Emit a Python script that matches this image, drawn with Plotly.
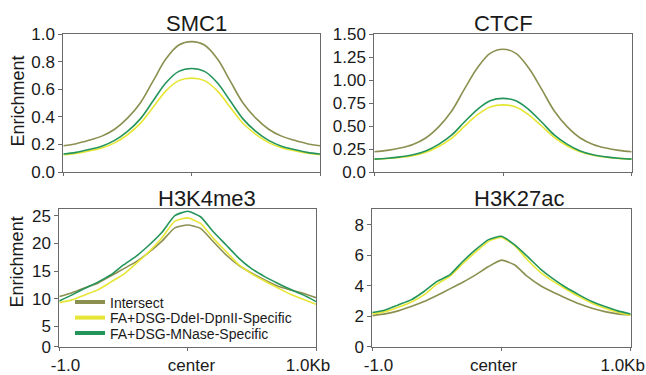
import plotly.graph_objects as go

# ---------------- data ----------------
x_pos = [-1.0, -0.9, -0.8, -0.7, -0.6, -0.5, -0.4, -0.3, -0.2, -0.1, 0.0,
         0.1, 0.2, 0.3, 0.4, 0.5, 0.6, 0.7, 0.8, 0.9, 1.0]

series_names = ["Intersect", "FA+DSG-DdeI-DpnII-Specific", "FA+DSG-MNase-Specific"]

smc1_intersect = [0.19, 0.205, 0.23, 0.26, 0.31, 0.39, 0.50, 0.66, 0.82, 0.92, 0.945,
                  0.92, 0.82, 0.66, 0.50, 0.39, 0.31, 0.26, 0.23, 0.205, 0.19]
smc1_ddei = [0.125, 0.135, 0.152, 0.174, 0.211, 0.270, 0.352, 0.470, 0.588, 0.662, 0.68,
             0.662, 0.588, 0.470, 0.353, 0.272, 0.213, 0.176, 0.154, 0.136, 0.125]
smc1_mnase = [0.13, 0.142, 0.163, 0.187, 0.229, 0.294, 0.385, 0.516, 0.647, 0.729, 0.75,
              0.729, 0.647, 0.516, 0.385, 0.294, 0.229, 0.187, 0.163, 0.142, 0.13]

ctcf_intersect = [0.22, 0.235, 0.26, 0.30, 0.37, 0.49, 0.66, 0.90, 1.13, 1.29, 1.335,
                  1.29, 1.13, 0.90, 0.66, 0.49, 0.37, 0.30, 0.26, 0.235, 0.22]
ctcf_ddei = [0.14, 0.146, 0.158, 0.178, 0.214, 0.277, 0.366, 0.495, 0.620, 0.706, 0.73,
             0.707, 0.622, 0.50, 0.373, 0.283, 0.219, 0.182, 0.161, 0.148, 0.14]
ctcf_mnase = [0.14, 0.149, 0.164, 0.187, 0.229, 0.30, 0.40, 0.543, 0.679, 0.774, 0.80,
              0.774, 0.679, 0.543, 0.40, 0.30, 0.229, 0.187, 0.164, 0.149, 0.14]

h3k4_intersect = [10.4, 11.1, 12.0, 12.8, 14.1, 15.4, 16.7, 18.4, 20.4, 22.8, 23.3,
                  22.7, 20.3, 17.9, 16.0, 14.6, 13.4, 12.3, 11.6, 11.0, 10.2]
h3k4_ddei = [9.3, 9.8, 10.7, 11.6, 13.0, 14.4, 16.4, 18.5, 21.0, 24.0, 24.6,
             23.6, 20.9, 18.5, 16.1, 14.5, 13.2, 12.0, 10.8, 9.9, 9.0]
h3k4_mnase = [9.6, 10.7, 11.9, 13.0, 14.3, 16.1, 17.7, 19.7, 22.0, 25.0, 25.8,
              24.8, 22.1, 19.7, 17.3, 15.4, 14.0, 12.8, 11.7, 10.7, 9.5]

h3k27_intersect = [2.04, 2.15, 2.35, 2.63, 2.96, 3.36, 3.79, 4.23, 4.71, 5.26, 5.68,
                   5.37, 4.61, 4.01, 3.57, 3.18, 2.81, 2.52, 2.30, 2.15, 2.08]
h3k27_ddei = [2.15, 2.30, 2.59, 2.92, 3.40, 4.10, 4.61, 5.44, 6.21, 6.91, 7.17,
              6.64, 5.70, 4.89, 4.28, 3.77, 3.29, 2.85, 2.52, 2.26, 2.04]
h3k27_mnase = [2.24, 2.41, 2.74, 3.07, 3.62, 4.28, 4.71, 5.59, 6.36, 7.02, 7.24,
               6.69, 5.92, 5.11, 4.45, 3.88, 3.40, 2.96, 2.63, 2.35, 2.15]

panel_titles = ["SMC1", "CTCF", "H3K4me3", "H3K27ac"]
y_label = "Enrichment"

x_tickvals = [-1.0, 0.0, 1.0]
NB = "\u00a0"
x_ticktext_left = [NB * 6 + "-1.0", NB * 5 + "center", "1.0Kb"]
x_ticktext_right = [NB * 6 + "-1.0", "center", "1.0Kb"]

smc1_ticks = [0.0, 0.2, 0.4, 0.6, 0.8, 1.0]
smc1_ticktext = ["0.0", "0.2", "0.4", "0.6", "0.8", "1.0"]
ctcf_ticks = [0.0, 0.25, 0.5, 0.75, 1.0, 1.25, 1.5]
ctcf_ticktext = ["0.0", "0.25", "0.50", "0.75", "1.00", "1.25", "1.50"]
h3k4_ticks = [1.35, 5, 10, 15, 20, 25]
h3k4_ticktext = ["0", "5", "10", "15", "20", "25"]
h3k27_ticks = [0, 2, 4, 6, 8]
h3k27_ticktext = ["0", "2", "4", "6", "8"]

colors = ["#8b9050", "#e6e636", "#24955a"]

# ---------------- figure ----------------
W, H = 646, 375
FONT = "Liberation Sans, Arial, sans-serif"
TXT = "#1a1a1a"

def px_x(p):
    return p / W

def px_y(p):
    return 1 - p / H

fig = go.Figure()

panels = [
    ("x", "y", [smc1_intersect, smc1_ddei, smc1_mnase], 1.0),
    ("x2", "y2", [ctcf_intersect, ctcf_ddei, ctcf_mnase], 1.0),
    ("x3", "y3", [h3k4_intersect, h3k4_ddei, h3k4_mnase], 0.5),
    ("x4", "y4", [h3k27_intersect, h3k27_ddei, h3k27_mnase], 0.5),
]

for xa, ya, data, sm in panels:
    for name, vals, col in zip(series_names, data, colors):
        fig.add_trace(go.Scatter(
            x=x_pos, y=vals, mode="lines", name=name,
            line=dict(color=col, width=1.6, shape="spline", smoothing=sm),
            xaxis=xa, yaxis=ya, showlegend=False, hoverinfo="skip"))

# legend entries (one legend per entry so spacing can match)
legend_ids = ["legend", "legend2", "legend3"]
for name, col, lid in zip(series_names, colors, legend_ids):
    fig.add_trace(go.Scatter(
        x=[None], y=[None], mode="lines", name=name,
        line=dict(color=col, width=4),
        xaxis="x3", yaxis="y3", showlegend=True, legend=lid))

legend_rows = [302.5, 318.0, 333.5]
leg_common = dict(x=px_x(70), xanchor="left", yanchor="middle",
                  bgcolor="rgba(0,0,0,0)", borderwidth=0,
                  font=dict(family=FONT, size=14, color=TXT),
                  itemwidth=30, tracegroupgap=0)
layout_legends = {}
for lid, row in zip(legend_ids, legend_rows):
    d = dict(leg_common)
    d["y"] = px_y(row)
    layout_legends[lid] = d

axis_line = dict(showline=True, linecolor="#6a6a6a", linewidth=1, mirror=True,
                 showgrid=False, zeroline=False, automargin=False,
                 tickfont=dict(family=FONT, size=17, color=TXT),
                 ticks="outside", tickcolor="#6a6a6a", ticklen=4, tickwidth=1)

top_y = [px_y(172), px_y(34)]
bot_y = [px_y(346.7), px_y(209)]

def xax(domain, anchor, labels, shift=0):
    d = dict(axis_line)
    d.update(domain=domain, anchor=anchor, range=[-1, 1], tickvals=x_tickvals,
             ticklen=3, ticklabeloverflow="allow", ticklabelshift=shift)
    if labels is None:
        d["showticklabels"] = False
    else:
        d["ticktext"] = labels
    return d

def yax(domain, anchor, rng, tv, tt):
    d = dict(axis_line)
    d.update(domain=domain, anchor=anchor, range=rng, tickvals=tv, ticktext=tt)
    return d

fig.update_layout(
    template="none",
    width=W, height=H,
    margin=dict(l=0, r=0, t=0, b=0, pad=0, autoexpand=False),
    paper_bgcolor="white", plot_bgcolor="white",
    font=dict(family=FONT, color=TXT),
    xaxis=xax([px_x(63.3), px_x(320)], "y", None),
    yaxis=yax(top_y, "x", [0, 1.0], smc1_ticks, smc1_ticktext),
    xaxis2=xax([px_x(374.3), px_x(631.7)], "y2", None),
    yaxis2=yax(top_y, "x2", [0, 1.5], ctcf_ticks, ctcf_ticktext),
    xaxis3=xax([px_x(59.3), px_x(316)], "y3", x_ticktext_left, shift=-8),
    yaxis3=yax(bot_y, "x3", [1.35, 26.2], h3k4_ticks, h3k4_ticktext),
    xaxis4=xax([px_x(372.3), px_x(630.7)], "y4", x_ticktext_right, shift=-8),
    yaxis4=yax(bot_y, "x4", [0, 9.03], h3k27_ticks, h3k27_ticktext),
    **layout_legends,
)

title_pos = [(196, 23), (503, 23), (206.5, 198), (519, 198)]
for t, (tx, ty) in zip(panel_titles, title_pos):
    fig.add_annotation(text=t, x=px_x(tx), y=px_y(ty), xref="paper", yref="paper",
                       xanchor="center", yanchor="middle", showarrow=False,
                       font=dict(family=FONT, size=22, color=TXT))

for (lx, ly) in [(17.5, 101), (16.7, 261.7)]:
    fig.add_annotation(text=y_label, x=px_x(lx), y=px_y(ly), xref="paper", yref="paper",
                       xanchor="center", yanchor="middle", showarrow=False, textangle=-90,
                       font=dict(family=FONT, size=18, color=TXT))

fig.write_html("out.html", config={"displayModeBar": False},
               post_script="document.body.style.margin='0px';document.body.style.overflow='hidden';")
